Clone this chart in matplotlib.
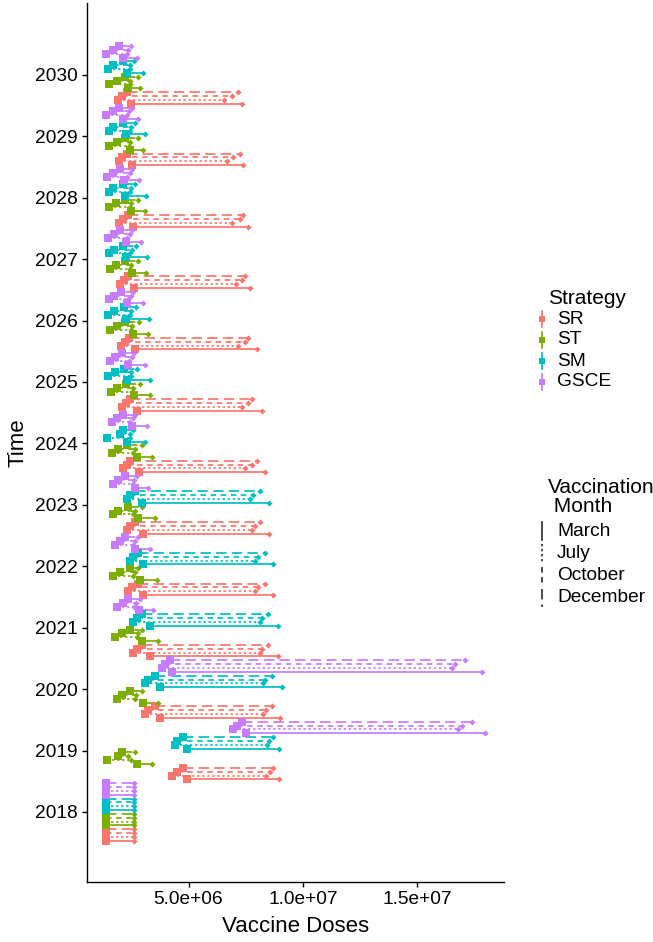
import numpy as np
import matplotlib
matplotlib.use("Agg")
import matplotlib.pyplot as plt

plt.rcParams['font.family'] = ['Liberation Sans', 'DejaVu Sans']

years = [2018, 2019, 2020, 2021, 2022, 2023, 2024, 2025, 2026, 2027, 2028, 2029, 2030]
strategies = ['SR', 'ST', 'SM', 'GSCE']
months = ['March', 'July', 'October', 'December']
colors = {'SR': '#F8766D', 'ST': '#7CAE00', 'SM': '#00BFC4', 'GSCE': '#C77CFF'}

# vaccine doses in millions, one value per year (2018 .. 2030)
sr_start_mar = [1.40, 4.94, 3.76, 3.33, 3.02, 3.02, 2.85, 2.76, 2.67, 2.63, 2.59, 2.54, 2.50]
sr_start_jul = [1.40, 4.29, 3.11, 2.59, 2.37, 2.32, 2.15, 2.10, 2.06, 2.02, 1.97, 1.97, 1.93]
sr_start_oct = [1.40, 4.51, 3.24, 2.76, 2.54, 2.45, 2.32, 2.28, 2.24, 2.19, 2.15, 2.10, 2.10]
sr_start_dec = [1.40, 4.77, 3.55, 2.98, 2.80, 2.67, 2.45, 2.45, 2.41, 2.37, 2.37, 2.32, 2.32]
sr_end_mar = [2.61, 8.96, 9.00, 8.92, 8.70, 8.52, 8.35, 8.22, 8.00, 7.69, 7.61, 7.39, 7.35]
sr_end_jul = [2.61, 8.39, 8.26, 8.13, 7.91, 7.78, 7.48, 7.35, 7.17, 7.08, 6.91, 6.69, 6.56]
sr_end_oct = [2.61, 8.57, 8.39, 8.22, 8.04, 7.91, 7.78, 7.61, 7.48, 7.35, 7.26, 6.95, 6.91]
sr_end_dec = [2.61, 8.70, 8.66, 8.48, 8.35, 8.13, 8.00, 7.78, 7.61, 7.48, 7.39, 7.26, 7.17]

st_start_mar = [1.40, 2.76, 3.02, 2.98, 2.89, 2.80, 2.76, 2.63, 2.59, 2.54, 2.50, 2.45, 2.37]
st_start_jul = [1.40, 1.45, 1.89, 1.80, 1.71, 1.71, 1.67, 1.62, 1.58, 1.58, 1.54, 1.54, 1.54]
st_start_oct = [1.40, 1.93, 2.10, 2.10, 2.02, 1.93, 1.93, 1.89, 1.89, 1.85, 1.85, 1.89, 1.89]
st_start_dec = [1.40, 2.10, 2.45, 2.45, 2.45, 2.37, 2.32, 2.28, 2.24, 2.24, 2.24, 2.24, 2.24]
st_end_mar = [2.61, 3.41, 3.68, 3.68, 3.64, 3.55, 3.41, 3.33, 3.24, 3.15, 3.11, 3.02, 2.89]
st_end_jul = [2.61, 2.50, 2.67, 2.76, 2.59, 2.59, 2.59, 2.54, 2.50, 2.45, 2.45, 2.41, 2.45]
st_end_oct = [2.61, 2.37, 2.72, 2.80, 2.67, 2.67, 2.67, 2.59, 2.54, 2.50, 2.50, 2.45, 2.45]
st_end_dec = [2.61, 2.67, 2.98, 2.98, 2.80, 2.98, 2.98, 2.89, 2.85, 2.80, 2.80, 2.80, 2.80]

sm_start_mar = [1.40, 4.94, 3.76, 3.33, 3.02, 2.98, 2.32, 2.32, 2.28, 2.28, 2.24, 2.28, 2.32]
sm_start_jul = [1.40, 4.42, 3.11, 2.59, 2.45, 2.32, 1.45, 1.49, 1.49, 1.54, 1.54, 1.54, 1.49]
sm_start_oct = [1.40, 4.51, 3.24, 2.76, 2.59, 2.45, 2.02, 1.80, 1.76, 1.76, 1.71, 1.71, 1.71]
sm_start_dec = [1.40, 4.77, 3.55, 2.98, 2.80, 2.67, 2.15, 2.19, 2.19, 2.15, 2.15, 2.15, 2.15]
sm_end_mar = [2.61, 8.96, 9.09, 8.92, 8.70, 8.52, 3.11, 3.33, 3.28, 3.20, 3.15, 3.11, 3.02]
sm_end_jul = [2.61, 8.44, 8.26, 8.13, 7.91, 7.69, 2.45, 2.50, 2.45, 2.45, 2.45, 2.45, 2.45]
sm_end_oct = [2.61, 8.52, 8.35, 8.22, 8.04, 7.83, 2.45, 2.50, 2.50, 2.54, 2.50, 2.50, 2.45]
sm_end_dec = [2.61, 8.70, 8.66, 8.48, 8.35, 8.13, 2.59, 2.76, 2.72, 2.72, 2.67, 2.67, 2.63]

gsce_start_mar = [1.40, 7.52, 4.29, 2.85, 2.67, 2.67, 2.54, 2.37, 2.32, 2.28, 2.19, 2.15, 2.15]
gsce_start_jul = [1.40, 6.95, 3.85, 1.89, 1.80, 1.71, 1.67, 1.58, 1.54, 1.49, 1.45, 1.40, 1.40]
gsce_start_oct = [1.40, 7.13, 3.98, 2.15, 2.02, 1.93, 1.89, 1.80, 1.76, 1.76, 1.71, 1.71, 1.71]
gsce_start_dec = [1.40, 7.35, 4.20, 2.37, 2.24, 2.24, 2.15, 2.10, 2.06, 2.02, 2.02, 1.97, 1.97]
gsce_end_mar = [2.61, 17.96, 17.83, 3.46, 3.33, 3.24, 3.20, 3.11, 3.02, 2.93, 2.85, 2.80, 2.76]
gsce_end_jul = [2.61, 16.78, 16.52, 2.63, 2.59, 2.59, 2.45, 2.41, 2.37, 2.32, 2.32, 2.32, 2.32]
gsce_end_oct = [2.61, 16.95, 16.65, 2.72, 2.67, 2.63, 2.59, 2.54, 2.50, 2.45, 2.45, 2.41, 2.37]
gsce_end_dec = [2.61, 17.39, 17.08, 2.89, 2.80, 2.76, 2.67, 2.63, 2.59, 2.54, 2.54, 2.54, 2.50]

starts = {
    'SR': [sr_start_mar, sr_start_jul, sr_start_oct, sr_start_dec],
    'ST': [st_start_mar, st_start_jul, st_start_oct, st_start_dec],
    'SM': [sm_start_mar, sm_start_jul, sm_start_oct, sm_start_dec],
    'GSCE': [gsce_start_mar, gsce_start_jul, gsce_start_oct, gsce_start_dec],
}
ends = {
    'SR': [sr_end_mar, sr_end_jul, sr_end_oct, sr_end_dec],
    'ST': [st_end_mar, st_end_jul, st_end_oct, st_end_dec],
    'SM': [sm_end_mar, sm_end_jul, sm_end_oct, sm_end_dec],
    'GSCE': [gsce_end_mar, gsce_end_jul, gsce_end_oct, gsce_end_dec],
}

# solid, dotted, dashed, longdash (in units of line width)
month_styles = ['-', (0, (1.3, 1.6)), (0, (3.2, 2.6)), (0, (6.0, 3.0))]

# dodge: each year split in 4 strategy bands, each band in 4 month rows
strat_off = [-0.375, -0.125, 0.125, 0.375]
month_off = [-0.09375, -0.03125, 0.03125, 0.09375]

fig = plt.figure(figsize=(6.53, 9.42), dpi=100)
ax = fig.add_axes([87 / 653, 60 / 942, 417 / 653, 879 / 942])

lw = 1.25
for si, s in enumerate(strategies):
    c = colors[s]
    for mi in range(4):
        y = np.array(years) + strat_off[si] + month_off[mi]
        x0 = np.array(starts[s][mi]) * 1e6
        x1 = np.array(ends[s][mi]) * 1e6
        ax.hlines(y, x0, x1, colors=c, linestyles=[month_styles[mi]], linewidth=lw, zorder=2)
        ax.plot(x0, y, 's', ms=5.2, mew=0, color=c, zorder=3)
        ax.plot(x1, y, 'D', ms=3.1, mew=0, color=c, zorder=3)

ax.set_xlim(0.563e6, 18.79e6)
ax.set_ylim(2016.86, 2031.17)
ax.set_xticks([5e6, 1e7, 1.5e7])
ax.set_xticklabels(['5.0e+06', '1.0e+07', '1.5e+07'])
ax.set_yticks(years)
ax.set_yticklabels([str(y) for y in years])
for sp in ['top', 'right']:
    ax.spines[sp].set_visible(False)
for sp in ['left', 'bottom']:
    ax.spines[sp].set_linewidth(1.0)
ax.tick_params(axis='both', length=3.6, width=1.0, labelsize=13.8, colors='black', pad=3)
ax.set_xlabel('Vaccine Doses', fontsize=16, labelpad=6)
ax.set_ylabel('Time', fontsize=16, labelpad=5)

# legends drawn in pixel coordinates
lax = fig.add_axes([0, 0, 1, 1], zorder=5)
lax.set_xlim(0, 653)
lax.set_ylim(942, 0)
lax.axis('off')

lax.text(548, 298, 'Strategy', fontsize=15, va='center', ha='left')
for i, s in enumerate(strategies):
    y = 319 + 21 * i
    lax.plot([542, 542], [y - 8, y + 8], color=colors[s], lw=lw)
    lax.plot(542, y, 's', ms=4.2, mew=0, color=colors[s])
    lax.text(557, y, s, fontsize=13.8, va='center', ha='left')

lax.text(548, 497, 'Vaccination\n Month', fontsize=15, va='center', ha='left', linespacing=1.05)
for i, m in enumerate(months):
    y = 531 + 22.3 * i
    lax.plot([542, 542], [y - 9, y + 9], color='#333333', lw=lw, linestyle=month_styles[i])
    lax.text(557, y, m, fontsize=13.8, va='center', ha='left')

fig.savefig('out.png', dpi=100)
